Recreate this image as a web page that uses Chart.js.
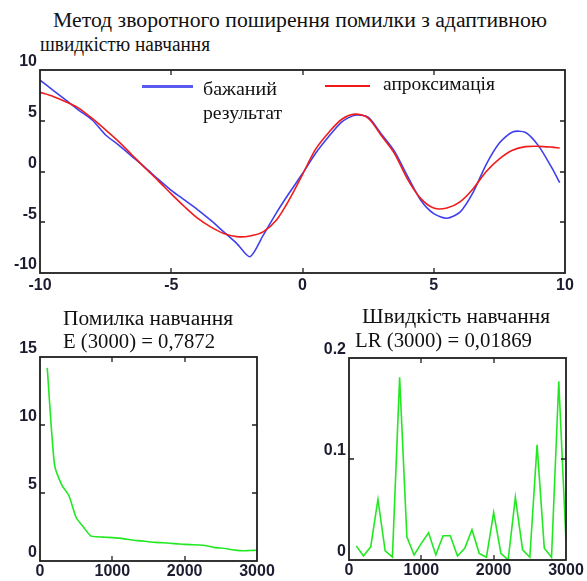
<!DOCTYPE html>
<html>
<head>
<meta charset="utf-8">
<script src="https://cdn.jsdelivr.net/npm/chart.js@4.4.1/dist/chart.umd.min.js"></script>
<style>
  html, body { margin: 0; padding: 0; background: #fff; }
  #page { position: relative; width: 587px; height: 581px; overflow: hidden; }
  canvas { position: absolute; }
  .txt { position: absolute; font-family: "Liberation Serif", "DejaVu Serif", serif; color: #111; white-space: nowrap;
         line-height: 1; transform-origin: 0 0; }
  .sample { position: absolute; height: 2px; }
</style>
</head>
<body>
<div id="page">
  <div class="txt" data-w="494" style="left:53px; top:10px; font-size:20px;">Метод зворотного поширення помилки з адаптивною</div>
  <div class="txt" data-w="170" style="left:40px; top:34px; font-size:20px;">швидкістю навчання</div>

  <canvas id="chart-main" width="587" height="250" style="left:0; top:50px;"></canvas>
  <canvas id="chart-err" width="290" height="281" style="left:0; top:300px;"></canvas>
  <canvas id="chart-lr" width="287" height="281" style="left:300px; top:300px;"></canvas>

  <div class="sample" style="left:142px; top:85px; width:51px; background:#5a5af0; height:3px;"></div>
  <div class="txt" data-w="74" style="left:203px; top:80px; font-size:18px;">бажаний</div>
  <div class="txt" data-w="79" style="left:203px; top:104px; font-size:18px;">результат</div>
  <div class="sample" style="left:325px; top:85px; width:45px; background:#f01818;"></div>
  <div class="txt" data-w="112" style="left:383px; top:75px; font-size:18px;">апроксимація</div>

  <div class="txt" data-w="170" style="left:63px; top:308px; font-size:20px;">Помилка навчання</div>
  <div class="txt" data-w="152" style="left:63px; top:331px; font-size:20px;">E (3000) = 0,7872</div>
  <div class="txt" data-w="188" style="left:362px; top:306px; font-size:20px;">Швидкість навчання</div>
  <div class="txt" data-w="177" style="left:355px; top:330px; font-size:20px;">LR (3000) = 0,01869</div>
</div>
<script>
// вхід x для апроксимації
const xs = [-10, -9.5, -9, -8.5, -8, -7.5, -7, -6.5, -6, -5.5, -5, -4.5, -4, -3.5, -3, -2.5, -2, -1.5, -1, -0.5,
            0, 0.5, 1, 1.5, 2, 2.5, 3, 3.5, 4, 4.5, 5, 5.5, 6, 6.5, 7, 7.5, 8, 8.5, 9, 9.5, 9.8];
// бажаний результат
const desired = [9.0, 8.0, 7.0, 6.0, 5.05, 3.6, 2.6, 1.5, 0.4, -0.75, -1.85, -2.8, -3.75, -4.8, -5.95, -7.1, -8.4, -6.3, -4.1, -2.1,
                 -0.2, 1.8, 3.45, 4.9, 5.55, 5.35, 3.7, 2.0, -0.45, -2.8, -4.15, -4.6, -4.0, -2.05, 0.7, 2.8, 3.9, 3.85, 2.5, 0.35, -1.1];
// вихід мережі
const approx = [7.8, 7.4, 6.85, 6.2, 5.2, 4.1, 2.95, 1.65, 0.35, -0.9, -2.2, -3.45, -4.6, -5.45, -6.1, -6.42, -6.35, -5.95, -4.8, -2.75,
                -0.3, 2.2, 3.85, 5.15, 5.65, 5.27, 3.55, 1.8, -0.75, -2.65, -3.6, -3.6, -3.0, -1.7, 0.0, 1.25, 2.1, 2.45, 2.48, 2.4, 2.32];

// епохи навчання
const epochs = [100, 200, 300, 400, 500, 600, 700, 800, 900, 1000, 1100, 1200, 1300, 1400, 1500,
                1600, 1700, 1800, 1900, 2000, 2100, 2200, 2300, 2400, 2500, 2600, 2700, 2800, 2900, 3000];
// помилка навчання
const errVals = [14.2, 7.1, 5.6, 4.8, 3.2, 2.5, 1.85, 1.78, 1.75, 1.72, 1.68, 1.6, 1.53, 1.48, 1.42,
                 1.37, 1.34, 1.3, 1.26, 1.22, 1.2, 1.18, 1.12, 1.0, 0.95, 0.88, 0.8, 0.75, 0.77, 0.7872];
// швидкість навчання
const lrVals = [0.014, 0.004, 0.013, 0.060, 0.009, 0.003, 0.181, 0.023, 0.005, 0.0165, 0.027, 0.005, 0.024, 0.024, 0.004,
                0.0116, 0.030, 0.0066, 0.0027, 0.047, 0.0066, 0.0, 0.062, 0.010, 0.0027, 0.114, 0.0116, 0.0027, 0.177, 0.01869];

const tickFont = { family: '"Liberation Sans", Arial, sans-serif', size: 16, weight: 'bold' };
const tickColor = '#1c1c30';

// підганяємо ширину підписів (шрифт тут вужчий)
document.querySelectorAll('.txt[data-w]').forEach(el => {
    const w = el.getBoundingClientRect().width;
    el.style.transform = `scaleX(${el.dataset.w / w})`;
});

// рамка і риски всередину, як у matlab
const frameTicks = {
    id: 'frameTicks',
    afterDatasetsDraw(chart) {
        const { ctx, chartArea: a, scales } = chart;
        const len = 5;
        ctx.save();
        ctx.strokeStyle = '#1e1e1e';
        ctx.lineWidth = 1.8;
        ctx.strokeRect(a.left, a.top, a.right - a.left, a.bottom - a.top);
        ctx.lineWidth = 1.3;
        ctx.beginPath();
        scales.x.ticks.forEach((t, i) => {
            const p = Math.round(scales.x.getPixelForTick(i));
            if (p < a.left + 2 || p > a.right - 2) return;
            ctx.moveTo(p, a.bottom); ctx.lineTo(p, a.bottom - len);
            ctx.moveTo(p, a.top); ctx.lineTo(p, a.top + len);
        });
        scales.y.ticks.forEach((t, i) => {
            const p = Math.round(scales.y.getPixelForTick(i));
            if (p < a.top + 2 || p > a.bottom - 2) return;
            ctx.moveTo(a.left, p); ctx.lineTo(a.left + len, p);
            ctx.moveTo(a.right, p); ctx.lineTo(a.right - len, p);
        });
        ctx.stroke();
        ctx.restore();
    }
};

function axes(o) {
    return {
        x: {
            type: 'linear', min: o.xmin, max: o.xmax,
            grid: { display: false, drawTicks: false }, border: { display: false },
            afterFit: s => { s.height = o.xh; },
            ticks: { stepSize: o.xstep, font: tickFont, color: tickColor, padding: o.xpad, maxRotation: 0,
                     callback: v => String(v) }
        },
        y: {
            min: o.ymin, max: o.ymax,
            grid: { display: false, drawTicks: false }, border: { display: false },
            afterFit: s => { s.width = o.yw; },
            ticks: { stepSize: o.ystep, font: tickFont, color: tickColor, padding: 3, labelOffset: -8,
                     callback: v => String(v) }
        }
    };
}

function doChart(id, datasets, sc, pad) {
    return new Chart(document.getElementById(id), {
        type: 'line',
        data: { datasets },
        options: {
            responsive: false,
            animation: false,
            layout: { padding: pad },
            plugins: { legend: { display: false }, tooltip: { enabled: false } },
            elements: { point: { radius: 0 } },
            scales: axes(sc)
        },
        plugins: [frameTicks]
    });
}

const pts = (xv, yv) => xv.map((x, i) => ({ x, y: yv[i] }));

doChart('chart-main', [
    { data: pts(xs, desired), borderColor: '#4040ec', borderWidth: 1.6, tension: 0.25, order: 1 },
    { data: pts(xs, approx), borderColor: '#f01c1c', borderWidth: 1.6, tension: 0.3, order: 0 }
], { xmin: -10, xmax: 10, xstep: 5, ymin: -10, ymax: 10, ystep: 5, xh: 27, yw: 40, xpad: 3 },
   { top: 20, right: 22, bottom: 0, left: 0 });

doChart('chart-err', [
    { data: pts(epochs, errVals), borderColor: '#22e822', borderWidth: 1.6, tension: 0.2 }
], { xmin: 0, xmax: 3000, xstep: 1000, ymin: 0, ymax: 15, ystep: 5, xh: 20, yw: 40, xpad: 1 },
   { top: 57, right: 33, bottom: 0, left: 0 });

doChart('chart-lr', [
    { data: pts(epochs, lrVals), borderColor: '#22e822', borderWidth: 1.6, tension: 0 }
], { xmin: 0, xmax: 3000, xstep: 1000, ymin: 0, ymax: 0.2, ystep: 0.1, xh: 21, yw: 49, xpad: 1 },
   { top: 58, right: 21, bottom: 0, left: 0 });
</script>
</body>
</html>
